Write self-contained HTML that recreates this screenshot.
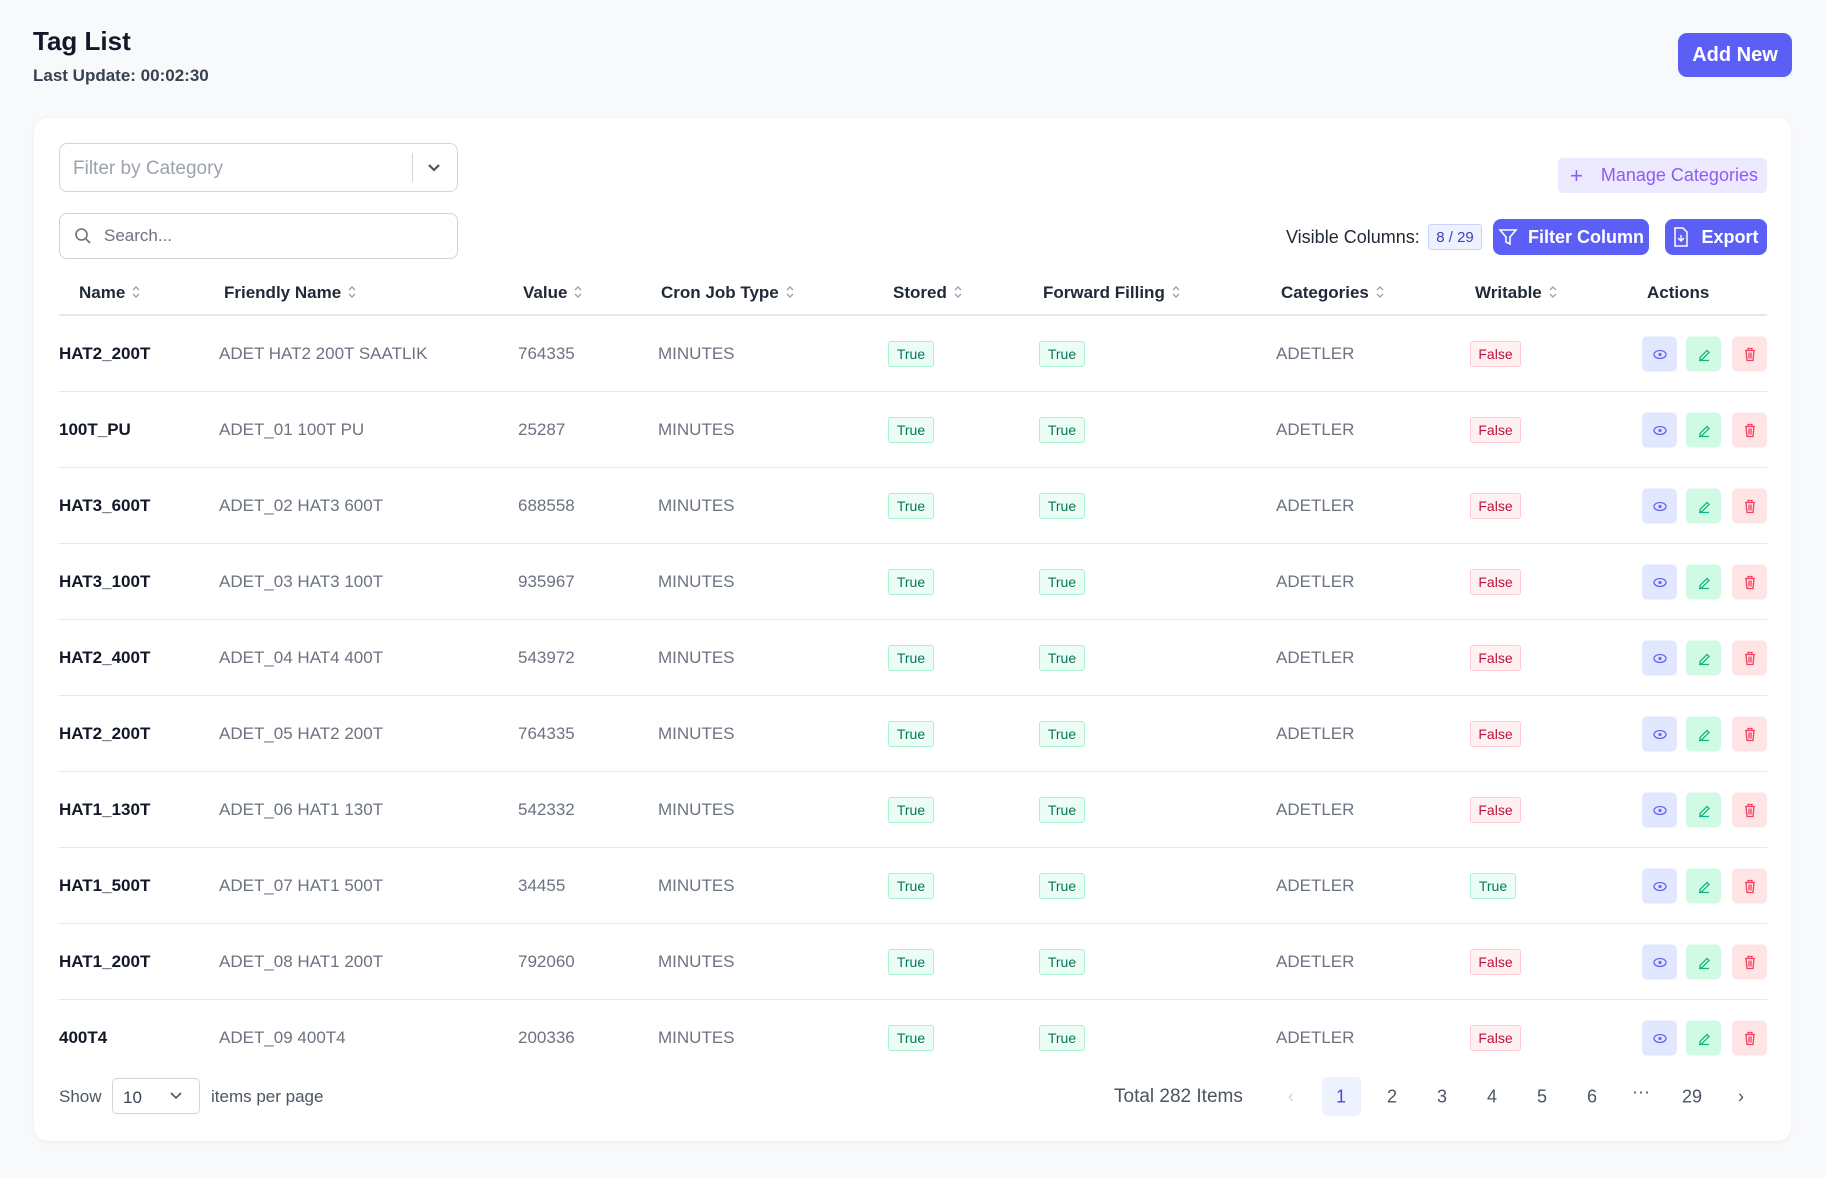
<!DOCTYPE html>
<html><head><meta charset="utf-8">
<style>
*{box-sizing:border-box;margin:0;padding:0}
body{width:1826px;height:1178px;background:#f8f9fb;font-family:"Liberation Sans",sans-serif;position:relative;overflow:hidden;color:#111827}
.a{position:absolute}
.card{left:34px;top:118px;width:1757px;height:1023px;background:#fff;border-radius:14px;box-shadow:0 1px 4px rgba(0,0,0,.06)}
.btn{background:#5b5ff5;color:#fff;border-radius:8px;font-weight:bold;display:flex;align-items:center;justify-content:center}
.th{top:283px;font-size:17px;font-weight:bold;color:#1f2937;white-space:nowrap}
.th svg{margin-left:6px;vertical-align:-2px}
.c{font-size:17px;color:#6b7280;white-space:nowrap;transform:translateY(-50%)}
.n{color:#111827;font-weight:bold}
.bd{height:26px;border-radius:3px;font-size:14px;display:flex;align-items:center;justify-content:center;transform:translateY(-50%)}
.t{background:#ecfdf5;border:1px solid #a7f3d0;color:#047857;width:46px}
.f{background:#fff1f2;border:1px solid #fecdd3;color:#be123c;width:51px}
.ic{width:35px;height:35px;border-radius:5px;transform:translateY(-50%);display:flex;align-items:center;justify-content:center;font-size:14px}
.hr{left:59px;width:1708px;height:1px;background:#e5e7eb}
.pg{top:1097px;font-size:18px;color:#4b5563;transform:translate(-50%,-50%)}
</style></head><body>
<div class="a" style="left:33px;top:26px;font-size:26px;font-weight:bold">Tag List</div>
<div class="a" style="left:33px;top:66px;font-size:17px;font-weight:bold;color:#374151">Last Update: 00:02:30</div>
<div class="a btn" style="left:1678px;top:33px;width:114px;height:44px;font-size:20px;border-radius:9px">Add New</div>
<div class="a card"></div>
<div class="a" style="left:59px;top:143px;width:399px;height:49px;border:1px solid #d1d5db;border-radius:8px"></div>
<div class="a" style="left:73px;top:158px;font-size:19px;color:#9ca3af">Filter by Category</div>
<div class="a" style="left:412px;top:153px;width:1px;height:29px;background:#d1d5db"></div>
<svg class="a" style="left:426px;top:160px" width="16" height="16"><path d="M3 5l5 5 5-5" stroke="#4b5563" stroke-width="2.2" fill="none"/></svg>
<div class="a" style="left:59px;top:213px;width:399px;height:46px;border:1px solid #d1d5db;border-radius:8px"></div>
<svg class="a" style="left:74px;top:227px" width="18" height="18"><circle cx="7.5" cy="7.5" r="5.5" stroke="#6b7280" stroke-width="1.6" fill="none"/><path d="M12 12l4 4" stroke="#6b7280" stroke-width="1.6"/></svg>
<div class="a" style="left:104px;top:226px;font-size:17px;color:#6b7280">Search...</div>
<div class="a" style="left:1558px;top:158px;width:209px;height:35px;background:#ede9fe;border-radius:5px;color:#8b5cf6;font-size:18px;display:flex;align-items:center"><span style="margin:0 18px 0 12px;font-size:22px">+</span>Manage Categories</div>
<div class="a" style="left:1286px;top:227px;font-size:18px;color:#1f2937">Visible Columns:</div>
<div class="a" style="left:1428px;top:224px;width:54px;height:26px;background:#eef2ff;border:1px solid #c7d2fe;border-radius:3px;color:#4338ca;font-size:15px;display:flex;align-items:center;justify-content:center">8 / 29</div>
<div class="a btn" style="left:1493px;top:219px;width:156px;height:36px;font-size:18px"><svg width="20" height="18" style="margin-right:10px"><path d="M2 2h16l-6 7v7l-4-2V9z" stroke="#fff" stroke-width="1.6" fill="none"/></svg>Filter Column</div>
<div class="a btn" style="left:1665px;top:219px;width:102px;height:36px;font-size:18px"><svg width="16" height="20" style="margin-right:12px"><path d="M2 1h8l4 4v14H2z" stroke="#fff" stroke-width="1.5" fill="none"/><path d="M8 8v6M5 11l3 3 3-3" stroke="#fff" stroke-width="1.4" fill="none"/></svg>Export</div>
<div id="hd"></div>
<div class="a hr" style="top:314px;height:2px;background:#e5e7eb"></div>
<div id="rows"></div>
<div class="a" style="left:59px;top:1087px;font-size:17px;color:#4b5563">Show</div>
<div class="a" style="left:112px;top:1078px;width:88px;height:36px;border:1px solid #d1d5db;border-radius:5px;font-size:17px;color:#374151;padding:9px 0 0 10px">10</div>
<svg class="a" style="left:169px;top:1090px" width="14" height="12"><path d="M2 3l5 5 5-5" stroke="#4b5563" stroke-width="1.6" fill="none"/></svg>
<div class="a" style="left:211px;top:1087px;font-size:17px;color:#4b5563">items per page</div>
<div class="a" style="left:1114px;top:1086px;font-size:19px;color:#4b5563">Total 282 Items</div>
<div class="a" style="left:1322px;top:1077px;width:39px;height:39px;background:#eef2ff;border-radius:5px"></div>
<div class="a pg" style="left:1291px;color:#d1d5db">‹</div>
<div class="a pg" style="left:1341px;color:#4f46e5">1</div>
<div class="a pg" style="left:1392px">2</div>
<div class="a pg" style="left:1442px">3</div>
<div class="a pg" style="left:1492px">4</div>
<div class="a pg" style="left:1542px">5</div>
<div class="a pg" style="left:1592px">6</div>
<div class="a pg" style="left:1641px;top:1092px">···</div>
<div class="a pg" style="left:1692px">29</div>
<div class="a pg" style="left:1741px">›</div>
<script>
const S='<svg width="10" height="16"><path d="M2 6l3-3 3 3M2 10l3 3 3-3" stroke="#9ca3af" stroke-width="1.4" fill="none"/></svg>';
const H=[["Name",79],["Friendly Name",224],["Value",523],["Cron Job Type",661],["Stored",893],["Forward Filling",1043],["Categories",1281],["Writable",1475]];
let hh=H.map(x=>`<div class="a th" style="left:${x[1]}px">${x[0]}${S}</div>`).join("")+`<div class="a th" style="left:1647px">Actions</div>`;
document.getElementById("hd").innerHTML=hh;
const d=[["HAT2_200T","ADET HAT2 200T SAATLIK","764335",0],["100T_PU","ADET_01 100T PU","25287",0],["HAT3_600T","ADET_02 HAT3 600T","688558",0],["HAT3_100T","ADET_03 HAT3 100T","935967",0],["HAT2_400T","ADET_04 HAT4 400T","543972",0],["HAT2_200T","ADET_05 HAT2 200T","764335",0],["HAT1_130T","ADET_06 HAT1 130T","542332",0],["HAT1_500T","ADET_07 HAT1 500T","34455",1],["HAT1_200T","ADET_08 HAT1 200T","792060",0],["400T4","ADET_09 400T4","200336",0]];
let h="";
d.forEach((r,i)=>{const y=354+i*76;
h+=`<div class="a c n" style="left:59px;top:${y}px">${r[0]}</div>
<div class="a c" style="left:219px;top:${y}px">${r[1]}</div>
<div class="a c" style="left:518px;top:${y}px">${r[2]}</div>
<div class="a c" style="left:658px;top:${y}px">MINUTES</div>
<div class="a bd t" style="left:888px;top:${y}px">True</div>
<div class="a bd t" style="left:1039px;top:${y}px">True</div>
<div class="a c" style="left:1276px;top:${y}px">ADETLER</div>
${r[3]?`<div class="a bd t" style="left:1470px;top:${y}px">True</div>`:`<div class="a bd f" style="left:1470px;top:${y}px">False</div>`}
<div class="a ic" style="left:1642px;top:${y}px;background:#e0e7ff;color:#6366f1"><svg width="14" height="10"><ellipse cx="7" cy="5" rx="6" ry="4" stroke="#6366f1" stroke-width="1.3" fill="none"/><circle cx="7" cy="5" r="1.6" fill="#6366f1"/></svg></div>
<div class="a ic" style="left:1686px;top:${y}px;background:#d1fae5"><svg width="14" height="14"><path d="M3 10l7-7 2 2-7 7H3zM2 13h10" stroke="#10b981" stroke-width="1.3" fill="none"/></svg></div>
<div class="a ic" style="left:1732px;top:${y}px;background:#ffe4e6"><svg width="12" height="14"><path d="M1 3h10M4 3V1h4v2M2 3l1 10h6l1-10M5 5v6M7 5v6" stroke="#f43f5e" stroke-width="1.3" fill="none"/></svg></div>`;
if(i<9)h+=`<div class="a hr" style="top:${y+37}px"></div>`;});
document.getElementById("rows").innerHTML=h;
</script>
</body></html>
